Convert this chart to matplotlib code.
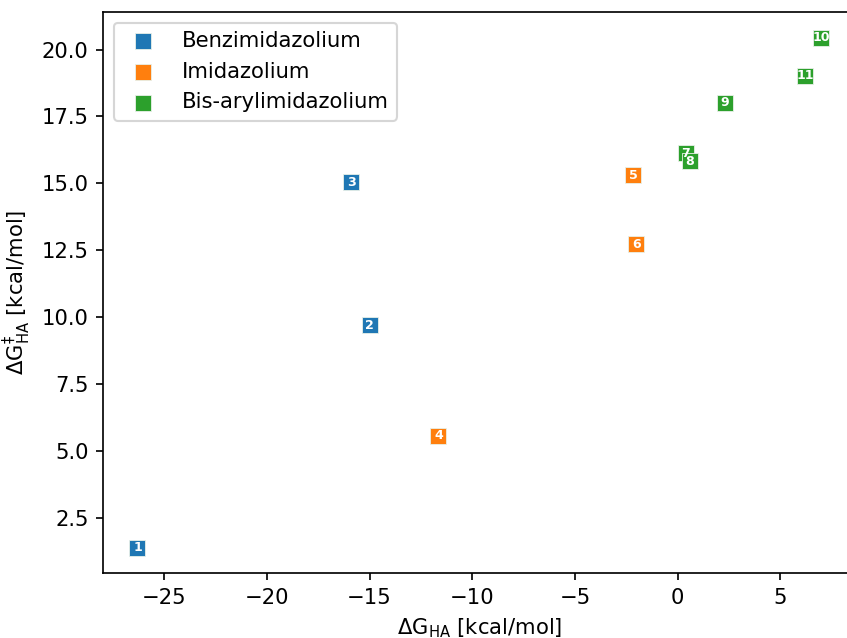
import matplotlib
matplotlib.use("Agg")
import matplotlib.pyplot as plt

# Data
benz_ids = ["1", "2", "3"]
benz_x = [-26.3, -15.0, -15.9]
benz_y = [1.38, 9.7, 15.04]

imid_ids = ["4", "5", "6"]
imid_x = [-11.65, -2.16, -2.0]
imid_y = [5.56, 15.3, 12.72]

bis_ids = ["7", "8", "9", "10", "11"]
bis_x = [0.4, 0.6, 2.3, 7.0, 6.2]
bis_y = [16.12, 15.82, 18.02, 20.45, 19.03]

series = [
    ("Benzimidazolium", benz_ids, benz_x, benz_y, "#1f77b4"),
    ("Imidazolium", imid_ids, imid_x, imid_y, "#ff7f0e"),
    ("Bis-arylimidazolium", bis_ids, bis_x, bis_y, "#2ca02c"),
]

DPI = 152
fig = plt.figure(figsize=(847 / DPI, 638 / DPI), dpi=DPI)
W, H = 847, 638
left, right_px, top, bottom = 103.3, 855.5, 12.0, 573.3
ax = fig.add_axes([left / W, (H - bottom) / H, (right_px - left) / W, (bottom - top) / H])

for name, ids, xs, ys, col in series:
    ax.scatter(xs, ys, marker="s", s=60, color=col, edgecolors="#e8f0e8",
               linewidths=0.4, label=name, zorder=2)
    for i, x, y in zip(ids, xs, ys):
        ax.text(x, y, i, color="white", fontsize=6, fontweight="bold",
                ha="center", va="center", zorder=3)

ax.set_xlabel(r"$\mathregular{\Delta G_{HA}}$ [kcal/mol]")
ax.set_ylabel(r"$\mathregular{\Delta G^{\ddagger}_{HA}}$ [kcal/mol]")
ax.legend(loc="upper left")

fig.savefig("out.png", dpi=DPI)
